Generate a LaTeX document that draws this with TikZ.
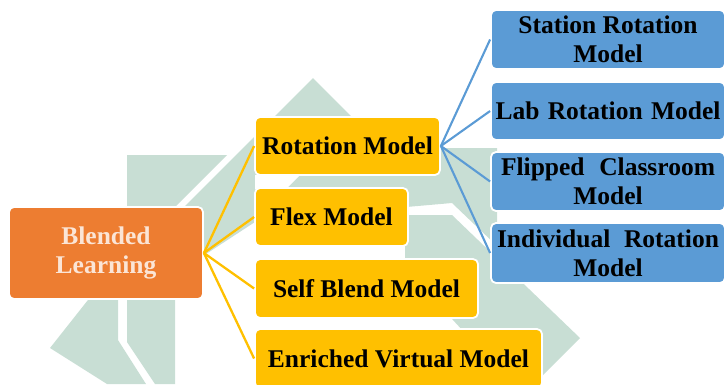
\documentclass[tikz,border=0pt]{standalone}
\usepackage{fontspec}
\setmainfont{Liberation Serif}
\definecolor{orng}{HTML}{ED7D31}
\definecolor{yel}{HTML}{FFC000}
\definecolor{blu}{HTML}{5B9BD5}
\definecolor{cream}{HTML}{FBE5D6}
\definecolor{wm}{RGB}{200,222,212}
\begin{document}
\begin{tikzpicture}[x=1pt,y=-1pt,
  box/.style={rectangle, rounded corners=5pt, draw=white, line width=1.8pt, inner sep=0pt, align=center, font=\fontsize{25.5}{29}\selectfont\bfseries},
  ybox/.style={box, fill=yel, text=black},
  bbox/.style={box, fill=blu, text=black, minimum width=234pt},
  obox/.style={box, fill=orng, text=cream},
  yline/.style={draw=yel, line width=2.3pt},
  bline/.style={draw=blu, line width=2.1pt},
  wmark/.style={fill=wm, draw=none}]
\useasboundingbox (0,0) rectangle (726,384);
\clip (0,0) rectangle (726,384);
% watermark
\fill[wmark] (313,78) -- (383,148) -- (497,148) -- (497,246) -- (452,203) -- (258,220) -- (203,256) -- (160,231) -- cycle;
\fill[white] (255,175) -- (300,175) -- (286,189) -- (255,189) -- cycle;
\fill[wmark] (127,155) -- (227,155) -- (175,207) -- (175,384) -- (155,384) -- (127,342) -- cycle;
\fill[wmark] (118,262) -- (118,340) -- (146,384) -- (107,384) -- (50,348) -- cycle;
\fill[wmark] (405,215) -- (452,215) -- (580,338) -- (534,384) -- (512,384) -- (405,268) -- cycle;
% nodes
\node[obox, minimum width=194pt, minimum height=92pt] (bl) at (106,253) {Blended\\Learning};
\node[ybox, minimum width=185pt, minimum height=58pt] (rot) at (347.5,146) {Rotation Model};
\node[ybox, minimum width=153pt, minimum height=58pt] (flex) at (331.5,217) {Flex Model};
\node[ybox, minimum width=223pt, minimum height=59pt] (self) at (366.5,288.5) {Self Blend Model};
\node[ybox, minimum width=287pt, minimum height=59pt] (enr) at (398.5,358.5) {Enriched Virtual Model};
\node[bbox, minimum height=59pt] (sta) at (608,39.5) {Station Rotation\\Model};
\node[bbox, minimum height=58pt] (lab) at (608,111) {\makebox[225pt][s]{Lab Rotation Model}};
\node[bbox, minimum height=59pt] (fli) at (608,181.5) {\makebox[214pt][s]{Flipped Classroom}\\Model};
\node[bbox, minimum height=60pt] (ind) at (608,253) {\makebox[222pt][s]{Individual Rotation}\\Model};
% connectors
\foreach \t in {rot,flex,self,enr} \draw[yline] (bl.east) -- (\t.west);
\foreach \t in {sta,lab,fli,ind} \draw[bline] (rot.east) -- (\t.west);
\end{tikzpicture}
\end{document}
